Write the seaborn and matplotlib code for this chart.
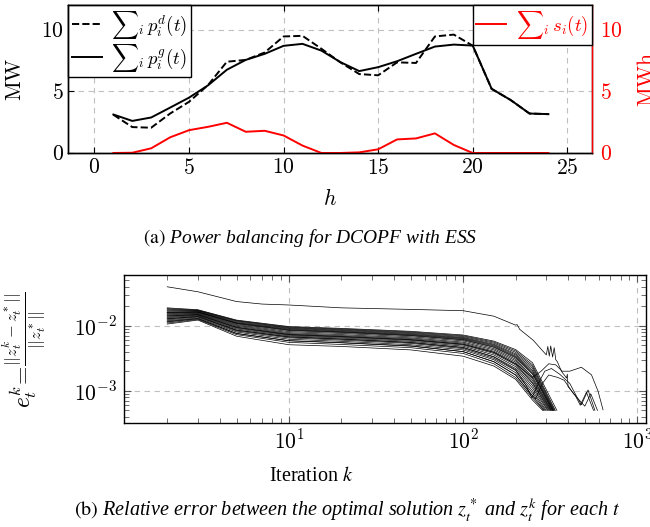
import numpy as np
import pandas as pd
import matplotlib
matplotlib.use('Agg')
import matplotlib.pyplot as plt
import seaborn as sns
from matplotlib.ticker import FixedLocator, FuncFormatter, LogLocator, NullFormatter

# ---- (a) power balancing, hourly values ----
hours = list(range(1, 25))
demand = [3.1, 2.1, 2.05, 3.2, 4.15, 5.5, 7.4, 7.55, 8.15, 9.45, 9.5, 8.45,
          7.35, 6.4, 6.3, 7.35, 7.3, 9.45, 9.6, 8.7, 5.2, 4.3, 3.2, 3.15]
generation = [3.12, 2.6, 2.88, 3.68, 4.49, 5.48, 6.75, 7.55, 8.04, 8.69, 8.85, 8.3,
              7.37, 6.64, 6.96, 7.44, 8.04, 8.63, 8.79, 8.71, 5.2, 4.3, 3.2, 3.15]
storage = [0.0, 0.02, 0.38, 1.27, 1.85, 2.12, 2.45, 1.72, 1.8, 1.42, 0.6, 0.0,
           0.0, 0.05, 0.3, 1.1, 1.18, 1.59, 0.65, 0.0, 0.0, 0.0, 0.0, 0.0]

# ---- (b) relative error per hour t (values in 1e-3) ----
k_bundle = [2, 3, 5, 10, 20, 50, 100, 150, 200, 250]
bundle_err = [
    [18.8, 17.6, 12.2, 9.7, 9.1, 8.2, 7.2, 5.8, 4.3, 2.7],
    [18.3, 17.3, 12.0, 9.5, 8.9, 8.0, 7.0, 5.6, 4.1, 2.5],
    [17.8, 17.1, 11.8, 9.3, 8.7, 7.8, 6.8, 5.4, 3.9, 2.35],
    [17.3, 16.9, 11.5, 9.1, 8.5, 7.6, 6.6, 5.2, 3.7, 2.2],
    [16.8, 16.6, 11.2, 8.9, 8.3, 7.4, 6.45, 5.05, 3.55, 2.05],
    [16.3, 16.3, 11.0, 8.7, 8.1, 7.25, 6.3, 4.9, 3.4, 1.95],
    [16.0, 16.2, 10.9, 8.55, 8.0, 7.1, 6.15, 4.75, 3.3, 1.85],
    [15.9, 16.1, 10.7, 8.4, 7.85, 7.0, 6.05, 4.65, 3.2, 1.8],
    [15.4, 15.8, 10.4, 8.1, 7.6, 6.75, 5.85, 4.45, 3.05, 1.65],
    [15.0, 15.5, 10.1, 7.8, 7.3, 6.5, 5.6, 4.25, 2.9, 1.55],
    [14.6, 15.2, 9.8, 7.55, 7.05, 6.3, 5.4, 4.05, 2.75, 1.45],
    [14.0, 14.9, 9.5, 7.35, 6.85, 6.1, 5.2, 3.9, 2.6, 1.35],
    [13.6, 14.6, 9.2, 7.15, 6.65, 5.95, 5.05, 3.75, 2.5, 1.3],
    [13.2, 14.3, 8.9, 6.95, 6.45, 5.75, 4.85, 3.55, 2.35, 1.2],
    [12.7, 14.0, 8.6, 6.75, 6.25, 5.55, 4.65, 3.35, 2.2, 1.1],
    [12.3, 13.6, 8.3, 6.5, 6.0, 5.35, 4.45, 3.15, 2.05, 1.0],
    [11.9, 13.2, 8.0, 6.2, 5.75, 5.1, 4.25, 3.0, 1.9, 0.92],
    [11.4, 12.8, 7.6, 5.85, 5.45, 4.85, 4.0, 2.8, 1.75, 0.84],
    [11.0, 12.5, 7.3, 5.55, 5.15, 4.6, 3.75, 2.6, 1.6, 0.78],
    [10.6, 12.2, 6.9, 5.1, 4.8, 4.25, 3.4, 2.4, 1.5, 0.72],
]
bundle_end_k = [345, 338, 335, 332, 330, 328, 326, 325, 322, 320,
                318, 315, 312, 308, 305, 300, 296, 292, 290, 286]
end_err = 0.5

top_k = [2, 3, 5, 7, 10, 20, 50, 100, 150, 200, 204, 211, 252, 300, 306, 312,
         318, 326, 333, 340, 347, 367, 392, 396, 400, 440, 470, 510, 560]
top_err = [39.6, 33.2, 23.5, 21.5, 20.8, 18.8, 17.8, 17.0, 14.0, 10.2, 10.4, 8.8,
           6.0, 3.56, 4.8, 3.4, 4.9, 3.3, 4.6, 3.0, 2.8, 1.98, 1.57, 1.8, 1.16,
           0.85, 0.6, 0.95, 0.5]
h1_k = [2, 3, 5, 10, 20, 50, 100, 150, 200, 250, 280, 310, 340, 370, 409, 477,
        545, 595, 635]
h1_err = [14.2, 14.8, 9.4, 7.3, 6.8, 6.1, 5.2, 3.9, 2.6, 1.6, 2.0, 2.6, 2.5,
          2.0, 2.0, 2.3, 1.76, 0.98, 0.51]
h2_k = [2, 3, 5, 10, 20, 50, 100, 150, 200, 230, 248, 270, 294, 321, 358, 409,
        450, 477, 521, 570]
h2_err = [12.8, 13.8, 8.5, 6.7, 6.2, 5.5, 4.6, 3.3, 2.1, 1.2, 0.78, 1.3, 2.0,
          2.2, 1.8, 1.3, 0.8, 0.61, 1.03, 0.5]
h3_k = [2, 3, 5, 10, 20, 50, 100, 150, 200, 240, 260, 285, 310, 350, 380, 430,
        499, 540, 590]
h3_err = [11.6, 12.9, 7.6, 5.9, 5.5, 4.9, 4.0, 2.8, 1.75, 0.95, 0.75, 1.3,
          1.75, 1.6, 1.45, 0.9, 0.58, 0.9, 0.5]

rows = []
for i, (vals, kend) in enumerate(zip(bundle_err, bundle_end_k)):
    for k, e in zip(k_bundle + [kend], vals + [end_err]):
        rows.append((i, k, e * 1e-3))
for j, (ks, es) in enumerate([(top_k, top_err), (h1_k, h1_err),
                              (h2_k, h2_err), (h3_k, h3_err)]):
    for k, e in zip(ks, es):
        rows.append((100 + j, k, e * 1e-3))
err_df = pd.DataFrame(rows, columns=['line', 'k', 'e'])

plt.rcParams['mathtext.fontset'] = 'cm'
plt.rcParams['font.family'] = ['Liberation Serif', 'DejaVu Serif']
plt.rcParams['axes.linewidth'] = 1.0

TICK = 15.5
fig = plt.figure(figsize=(6.5, 5.27), dpi=100)
ax = fig.add_axes([0.1046, 0.7097, 0.806, 0.2808])
grid_kw = dict(color='#c0c0c0', lw=0.8, ls=(0, (5, 4)))

sns.lineplot(x=hours, y=demand, ax=ax, color='black', lw=1.4, linestyle='--',
             label=r'${\sum}_i\, p_i^d(t)$')
sns.lineplot(x=hours, y=generation, ax=ax, color='black', lw=1.4,
             label=r'${\sum}_i\, p_i^g(t)$')
ax.set_xlim(-1.4, 26.3)
ax.set_ylim(0, 12)
ax.xaxis.set_major_locator(FixedLocator([0, 5, 10, 15, 20, 25]))
ax.yaxis.set_major_locator(FixedLocator([0, 5, 10]))
num_fmt = FuncFormatter(lambda v, p: f'${v:g}$')
ax.xaxis.set_major_formatter(num_fmt)
ax.yaxis.set_major_formatter(num_fmt)
ax.tick_params(direction='in', labelsize=TICK, length=4, top=True, right=True, pad=4)
ax.tick_params(axis='y', pad=3)
ax.grid(True, **grid_kw)
ax.set_axisbelow(True)
ax.set_xlabel(r'$h$', fontsize=TICK)
ax.xaxis.set_label_coords(0.5, -0.24)
ax.set_ylabel(r'$\mathrm{MW}$', fontsize=TICK)
ax.yaxis.set_label_coords(-0.08, 0.5)
h, l = ax.get_legend_handles_labels()
leg1 = ax.legend(h, l, loc='upper left', bbox_to_anchor=(0, 1), borderaxespad=0,
                 fancybox=False, edgecolor='black', framealpha=1, fontsize=13.5,
                 handlelength=1.6, handletextpad=0.5, borderpad=0.2,
                 labelspacing=0.05)
leg1.get_frame().set_linewidth(1.0)

ax2 = ax.twinx()
sns.lineplot(x=hours, y=storage, ax=ax2, color='red', lw=1.4,
             label=r'${\sum}_i\, s_i(t)$')
ax2.set_ylim(0, 12)
ax2.yaxis.set_major_locator(FixedLocator([0, 5, 10]))
ax2.yaxis.set_major_formatter(num_fmt)
ax2.tick_params(axis='y', direction='in', colors='red', labelsize=TICK, length=0, pad=6)
ax2.spines['right'].set_color('red')
ax2.set_ylabel(r'$\mathrm{MWh}$', fontsize=TICK, color='red')
ax2.yaxis.set_label_coords(1.088, 0.5)
h2, l2 = ax2.get_legend_handles_labels()
leg2 = ax2.legend(h2, l2, loc='upper right', bbox_to_anchor=(1, 1), borderaxespad=0,
                  fancybox=False, edgecolor='black', framealpha=1, fontsize=13.5,
                  handlelength=1.6, handletextpad=0.5, borderpad=0.2,
                  labelcolor='red')
leg2.get_frame().set_linewidth(1.0)

fig.text(0.477, 0.549, r'$\mathrm{(a)}$ Power balancing for DCOPF with ESS',
         fontsize=14, style='italic', ha='center', va='center', math_fontfamily='stix')

# ---- (b) ----
bx = fig.add_axes([0.1908, 0.1973, 0.803, 0.2808])
sns.lineplot(data=err_df, x='k', y='e', units='line', estimator=None,
             color='black', lw=0.5, sort=False, ax=bx)
bx.set_xscale('log')
bx.set_yscale('log')
bx.set_xlim(1.13, 1120)
bx.set_ylim(3.2e-4, 6e-2)
bx.xaxis.set_major_locator(LogLocator(base=10, numticks=10))
bx.yaxis.set_major_locator(LogLocator(base=10, numticks=10))
bx.xaxis.set_minor_locator(LogLocator(base=10, subs=np.arange(2, 10), numticks=20))
bx.yaxis.set_minor_locator(LogLocator(base=10, subs=np.arange(2, 10), numticks=20))
pow_fmt = FuncFormatter(lambda v, p: f'$10^{{{int(round(np.log10(v)))}}}$')
bx.xaxis.set_major_formatter(pow_fmt)
bx.yaxis.set_major_formatter(pow_fmt)
bx.xaxis.set_minor_formatter(NullFormatter())
bx.yaxis.set_minor_formatter(NullFormatter())
bx.tick_params(which='both', direction='in', top=True, right=True, labelsize=TICK,
               color='#555555')
bx.tick_params(which='major', length=5, pad=5)
bx.tick_params(which='minor', length=3.5)
bx.grid(True, which='major', **grid_kw)
bx.set_axisbelow(True)
bx.set_xlabel(r'Iteration $k$', fontsize=14.5, math_fontfamily='stix')
bx.xaxis.set_label_coords(0.358, -0.3)
bx.set_ylabel(r'$e_t^k\!=\!\frac{||z_t^k - z_t^*||}{||z_t^*||}$', fontsize=17)
bx.yaxis.set_label_coords(-0.145, 0.5)

fig.text(0.534, 0.032,
         r'$\mathrm{(b)}$ Relative error between the optimal solution $z_t^*$ and $z_t^k$ for each $t$',
         fontsize=14.5, style='italic', ha='center', va='center', math_fontfamily='stix')

fig.savefig('out.png', dpi=100)
